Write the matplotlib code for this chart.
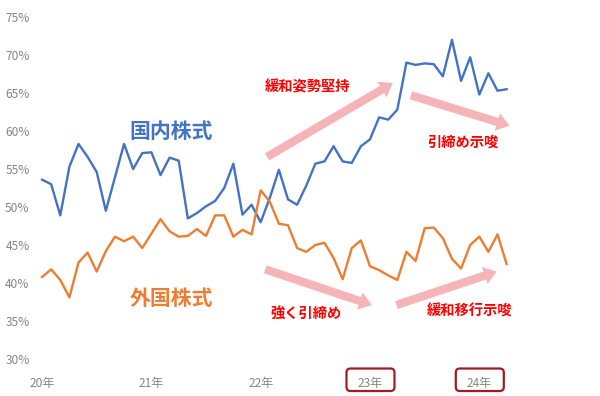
import matplotlib.pyplot as plt
import matplotlib.transforms as mtransforms
from matplotlib.patches import FancyArrowPatch, FancyBboxPatch

plt.rcParams['font.family'] = ['Noto Sans CJK JP', 'DejaVu Sans']

# monthly values, Jan 2020 - Apr 2024 (%)
domestic = [53.6, 53.0, 48.9, 55.3, 58.3, 56.6, 54.6, 49.5, 53.9, 58.3, 55.0, 57.1,
            57.2, 54.2, 56.5, 56.1, 48.5, 49.2, 50.1, 50.8, 52.5, 55.7, 49.0, 50.3,
            48.0, 51.2, 54.9, 51.0, 50.3, 52.8, 55.7, 56.0, 58.0, 56.0, 55.8, 58.0,
            58.9, 61.8, 61.5, 62.8, 69.0, 68.7, 68.9, 68.8, 67.2, 72.0, 66.6, 69.7,
            64.8, 67.6, 65.3, 65.5]
foreign = [40.8, 41.8, 40.4, 38.1, 42.7, 44.0, 41.5, 44.2, 46.1, 45.5, 46.1, 44.6,
           46.5, 48.4, 46.8, 46.1, 46.2, 47.1, 46.2, 48.9, 48.9, 46.1, 47.0, 46.4,
           52.2, 50.7, 47.8, 47.6, 44.6, 44.1, 45.0, 45.3, 43.3, 40.5, 44.6, 45.6,
           42.2, 41.7, 41.0, 40.4, 44.1, 42.9, 47.2, 47.3, 45.9, 43.2, 41.9, 45.0,
           46.1, 44.1, 46.4, 42.5]
year_labels = ["20年", "21年", "22年", "23年", "24年"]
year_ticks = [0, 12, 24, 36, 48]
yticks = [30, 35, 40, 45, 50, 55, 60, 65, 70, 75]

blue = '#4472C4'
orange = '#ED7D31'
red = '#FF0000'
pink = '#F4B4B8'

fig = plt.figure(figsize=(6, 3.96), dpi=100)
ax = fig.add_axes([0.061, 0.0934, 0.92, 0.8636])

x = list(range(len(domestic)))
ax.plot(x, domestic, color=blue, lw=1.7)
ax.plot(x, foreign, color=orange, lw=1.7)

ax.set_xlim(-0.6, 60)
ax.set_ylim(30, 75)
ax.set_yticks(yticks)
ax.set_yticklabels([f"{v}%" for v in yticks])
ax.set_xticks(year_ticks)
ax.set_xticklabels(year_labels)
ax.tick_params(axis='both', length=0, labelsize=8.6, labelcolor='#858585')
ax.tick_params(axis='y', pad=5)
ax.tick_params(axis='x', pad=13)
for s in ax.spines.values():
    s.set_visible(False)

# series names
ax.text(14.2, 60.0, "国内株式", color=blue, fontsize=15, fontweight='bold', ha='center', va='center')
ax.text(14.2, 37.9, "外国株式", color=orange, fontsize=15, fontweight='bold', ha='center', va='center')

# comments
notes = [("緩和姿勢堅持", 29.1, 65.7), ("引締め示唆", 46.2, 58.5),
         ("強く引締め", 29.0, 36.0), ("緩和移行示唆", 46.9, 36.2)]
for t, tx, ty in notes:
    ax.text(tx, ty, t, color=red, fontsize=10.3, fontweight='bold', ha='center', va='center')

arrows = [((24.7, 56.6), (38.5, 66.3)), ((40.5, 64.7), (51.3, 60.7)),
          ((24.5, 41.8), (36.2, 37.1)), ((38.9, 37.1), (49.9, 41.5))]
for a, b in arrows:
    ax.add_patch(FancyArrowPatch(a, b, arrowstyle="simple,head_length=0.45,head_width=0.65,tail_width=0.3",
                                 mutation_scale=20, color=pink, lw=0, shrinkA=0, shrinkB=0))

# boxes round the 23 and 24 labels
for xt in [36, 48]:
    tr = fig.dpi_scale_trans + mtransforms.ScaledTranslation(xt, 0, ax.get_xaxis_transform())
    box = FancyBboxPatch((-0.235, -0.32), 0.48, 0.225, boxstyle="round,pad=0,rounding_size=0.04",
                         transform=tr, fill=False, edgecolor='#A01C22', lw=1.6, clip_on=False)
    ax.add_patch(box)

plt.savefig("out.png", dpi=100)
